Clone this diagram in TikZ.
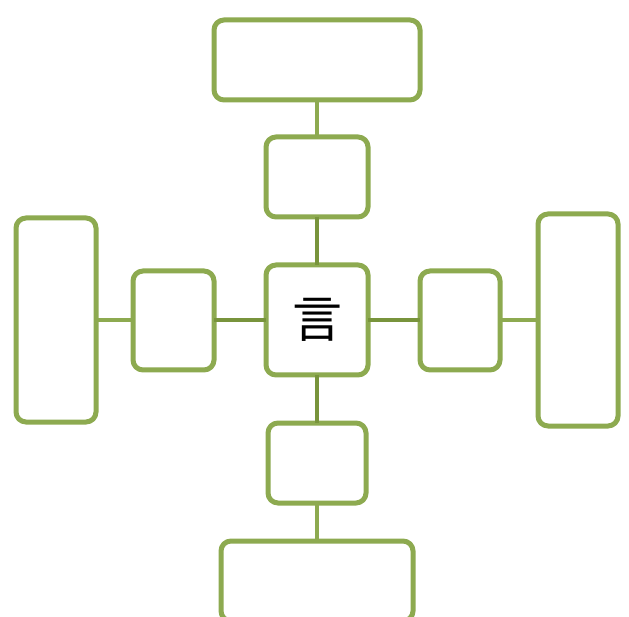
\documentclass[tikz,border=0pt]{standalone}
\usepackage{fontspec}
\newfontfamily\cjk{Noto Sans CJK JP}
\definecolor{boxgreen}{RGB}{141,170,80}
\definecolor{linkgreen}{RGB}{120,148,60}
\begin{document}
\begin{tikzpicture}[x=1pt,y=-1pt,
  gbox/.style={draw=boxgreen,line width=5pt,rounded corners=10pt,fill=white,inner sep=0pt,outer sep=0pt},
  outerlink/.style={draw=boxgreen,line width=4pt},
  innerlink/.style={draw=linkgreen,line width=4pt}]
\useasboundingbox (0,0) rectangle (629,617);
\node[gbox,minimum width=206pt,minimum height=80pt] (topbig) at (317,60) {};
\node[gbox,minimum width=102pt,minimum height=80pt] (topsmall) at (317,177) {};
\node[gbox,minimum width=102pt,minimum height=110pt] (center) at (317,320) {\raisebox{-3pt}{\cjk\fontsize{50}{50}\selectfont 言}};
\node[gbox,minimum width=81pt,minimum height=99pt] (leftsmall) at (173.5,320.5) {};
\node[gbox,minimum width=80pt,minimum height=204pt] (leftbig) at (56,320) {};
\node[gbox,minimum width=80pt,minimum height=99pt] (rightsmall) at (460,320.5) {};
\node[gbox,minimum width=80pt,minimum height=212pt] (rightbig) at (578,320) {};
\node[gbox,minimum width=98pt,minimum height=80pt] (botsmall) at (317,463) {};
\node[gbox,minimum width=192pt,minimum height=80pt] (botbig) at (317,581) {};
\draw[outerlink] (topbig.south) -- (topsmall.north);
\draw[innerlink] (topsmall.south) -- (center.north);
\draw[innerlink] (center.south) -- (botsmall.north);
\draw[outerlink] (botsmall.south) -- (botbig.north);
\draw[innerlink] (leftsmall.east |- center.west) -- (center.west);
\draw[outerlink] (leftbig.east) -- (leftsmall.west |- leftbig.east);
\draw[innerlink] (center.east) -- (rightsmall.west |- center.east);
\draw[outerlink] (rightsmall.east |- rightbig.west) -- (rightbig.west);
\end{tikzpicture}
\end{document}
